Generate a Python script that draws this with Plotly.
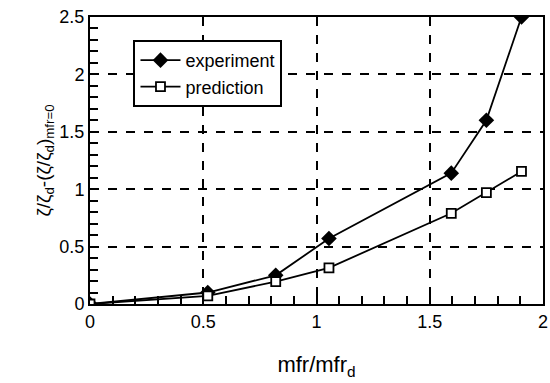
import plotly.graph_objects as go

x_exp = [0, 0.52, 0.82, 1.055, 1.595, 1.75, 1.905]
y_exp = [0, 0.10, 0.25, 0.57, 1.14, 1.60, 2.50]
x_pred = [0, 0.52, 0.82, 1.055, 1.595, 1.75, 1.905]
y_pred = [0, 0.07, 0.195, 0.315, 0.79, 0.97, 1.155]

fig = go.Figure()
fig.add_trace(go.Scatter(x=x_exp, y=y_exp, name="experiment", mode="lines+markers",
                         line=dict(color="black", width=1.8),
                         marker=dict(symbol="diamond", size=12, color="black")))
fig.add_trace(go.Scatter(x=x_pred, y=y_pred, name="prediction", mode="lines+markers",
                         line=dict(color="black", width=1.8),
                         marker=dict(symbol="square", size=9, color="white",
                                     line=dict(color="black", width=1.8))))

fig.update_layout(
    width=550, height=383,
    margin=dict(l=90, r=5, t=17, b=79),
    paper_bgcolor="white", plot_bgcolor="white",
    font=dict(family="Liberation Sans, Arial, sans-serif", size=18, color="black"),
    showlegend=True,
    legend=dict(x=0.096, y=0.92, xanchor="left", yanchor="top",
                bordercolor="black", borderwidth=2, bgcolor="white",
                font=dict(size=18), itemwidth=40),
)
fig.update_xaxes(range=[0, 2], dtick=0.5,
                 showline=True, linecolor="black", linewidth=2, mirror=True,
                 ticks="inside", ticklen=8, tickwidth=2, tickcolor="black",
                 minor=dict(ticks="inside", ticklen=8, tickwidth=2, tickcolor="black", dtick=0.1),
                 showgrid=True, gridcolor="black", gridwidth=1.5, griddash="dash",
                 zeroline=False, automargin=False, ticklabeloverflow="allow",
                 title=dict(text="mfr/mfr<sub>d</sub>", standoff=26))
fig.update_yaxes(range=[0, 2.5], dtick=0.5,
                 showline=True, linecolor="black", linewidth=2, mirror=True,
                 ticks="inside", ticklen=8, tickwidth=2, tickcolor="black",
                 minor=dict(ticks="inside", ticklen=8, tickwidth=2, tickcolor="black", dtick=0.1),
                 showgrid=True, gridcolor="black", gridwidth=1.5, griddash="dash",
                 zeroline=False,
                 title=dict(text="ζ/ζ<sub>d</sub>-(ζ/ζ<sub>d</sub>)<sub>mfr=0</sub>", standoff=4,
                            font=dict(size=19)))

fig.write_html("out.html")
